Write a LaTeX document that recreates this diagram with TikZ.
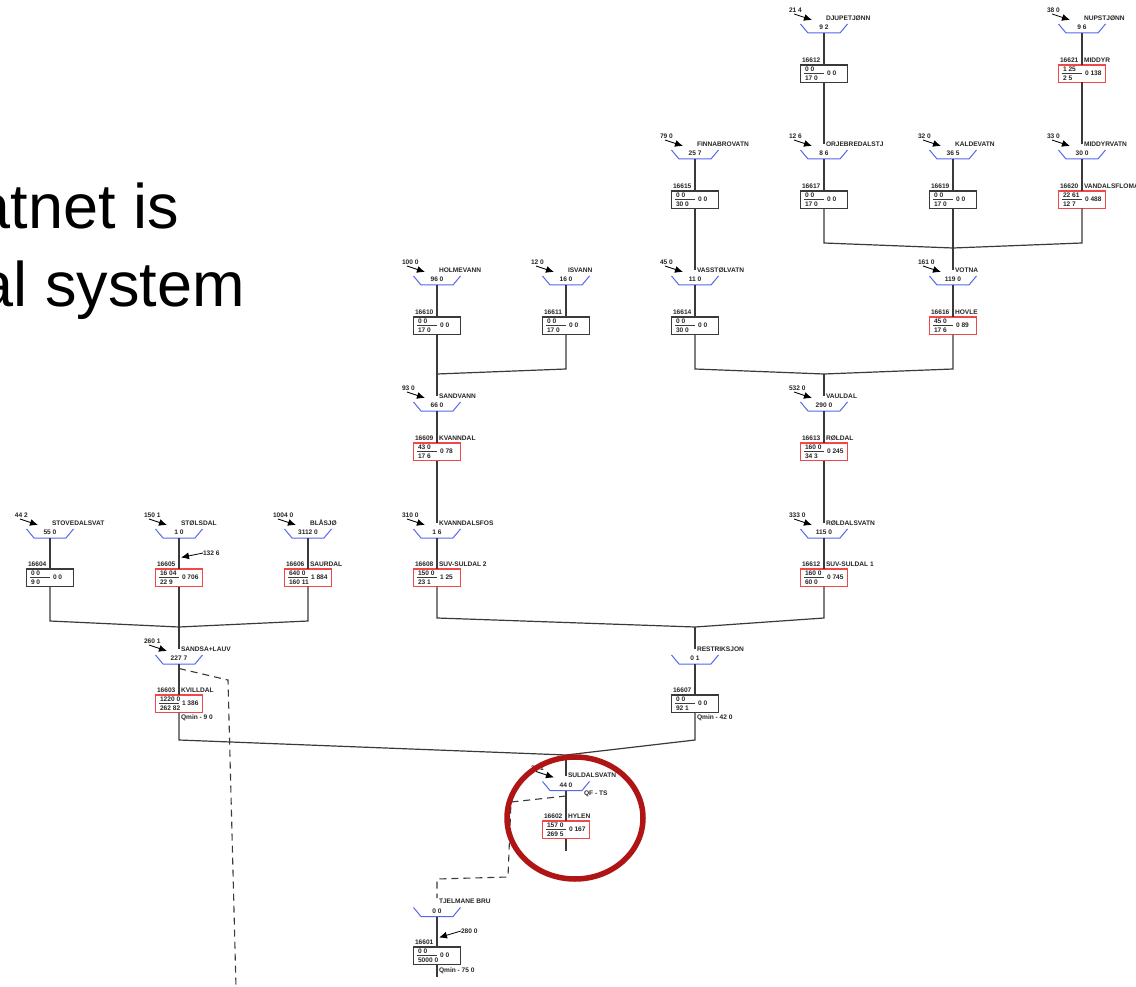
\documentclass[tikz,border=0pt]{standalone}
\usepackage{fontspec}
\setmainfont{Liberation Sans}
\usetikzlibrary{arrows.meta}
\definecolor{resblue}{HTML}{5566F0}
\definecolor{boxred}{HTML}{F04848}
\definecolor{ringred}{HTML}{B01515}
\definecolor{stem}{HTML}{3A3A3A}
\tikzset{
  txt/.style={inner sep=0pt,outer sep=0pt,font=\fontsize{6.6}{7}\selectfont\bfseries,text=black!85},
  wline/.style={draw=stem,line width=1.2pt},
  dline/.style={draw=stem,line width=1.1pt,dash pattern=on 7pt off 5pt},
  res/.style={draw=resblue,line width=1pt},
  plain/.style={draw=stem,line width=1.2pt,fill=white,minimum width=47pt,minimum height=17.5pt,inner sep=0pt,outer sep=0pt},
  hot/.style={draw=boxred,line width=1.2pt,fill=white,minimum width=47pt,minimum height=17.5pt,inner sep=0pt,outer sep=0pt},
  hotter/.style={draw=boxred,line width=1.8pt,fill=white,minimum width=47pt,minimum height=17.5pt,inner sep=0pt,outer sep=0pt},
  flow/.style={draw=black,line width=.8pt,-{Latex[length=8pt,width=7pt]}},
  big/.style={inner sep=0pt,outer sep=0pt,font=\fontsize{63}{70}\selectfont,text=black}
}
% reservoir: key, cx, bottom y, name, volume
\newcommand{\Res}[5]{%
  \coordinate (r#1) at (#2,#3);
  \coordinate (t#1) at ({#2},{#3-15});
  \draw[res] ({#2-23.5},{#3-9}) -- ({#2-16},{#3}) -- ({#2+16},{#3}) -- ({#2+23.5},{#3-9});
  \node[txt,anchor=west] (n#1) at ({#2+2},{#3-15}) {#4};
  \node[txt] (v#1) at ({#2},{#3-5.5}) {#5};
}
% inflow: key, cx, bottom y, number
\newcommand{\Inflow}[4]{%
  \node[txt,anchor=west] (i#1) at ({#2-35},{#3-22.5}) {#4};
  \coordinate (ia#1) at ({#2-30},{#3-19});
  \coordinate (ib#1) at ({#2-12},{#3-13});
  \draw[flow] (ia#1) -- (ib#1);
}
% box: key, cx, top y, id, second name, top, bottom, value, style
\newcommand{\Bx}[9]{%
  \node[#9] (b#1) at ({#2},{#3+8.75}) {};
  \node[txt,anchor=west] (id#1) at ({#2-22},{#3-4.5}) {#4};
  \node[txt,anchor=west] (m#1) at ({#2+2},{#3-4.5}) {#5};
  \node[txt,anchor=west] (f#1) at ({#2-19},{#3+4.2}) {#6};
  \node[txt,anchor=west] (g#1) at ({#2-19},{#3+13.3}) {#7};
  \node[txt,anchor=west] (x#1) at ({#2+3},{#3+8.6}) {#8};
  \coordinate (la#1) at ({#2-20},{#3+8.75});
  \coordinate (lb#1) at ({#2},{#3+8.75});
  \draw[draw=stem,line width=.7pt] (la#1) -- (lb#1);
}
\begin{document}
\begin{tikzpicture}[x=1pt,y=-1pt]
\useasboundingbox (0,0) rectangle (1136,987);
\clip (0,0) rectangle (1136,987);
\fill[white] (0,0) rectangle (1136,987);

\node[big,anchor=base east] (slideA) at (179,229) {atnet is};
\node[big,anchor=base east] (slideB) at (245,306) {al system};

% top row
\Res{a}{824}{33}{DJUPETJØNN}{9 2}
\Inflow{a}{824}{33}{21 4}
\Bx{a}{824}{65}{16612}{}{0 0}{17 0}{0 0}{plain}
\Res{b}{1082}{33}{NUPSTJØNN}{9 6}
\Inflow{b}{1082}{33}{38 0}
\Bx{b}{1082}{65}{16621}{MIDDYR}{1 25}{2 5}{0 138}{hot}
% second row
\Res{c}{695}{159}{FINNABROVATN}{25 7}
\Inflow{c}{695}{159}{79 0}
\Bx{c}{695}{191}{16615}{}{0 0}{30 0}{0 0}{plain}
\Res{d}{824}{159}{ORJEBREDALSTJ}{8 6}
\Inflow{d}{824}{159}{12 6}
\Bx{d}{824}{191}{16617}{}{0 0}{17 0}{0 0}{plain}
\Res{e}{953}{159}{KALDEVATN}{36 5}
\Inflow{e}{953}{159}{32 0}
\Bx{e}{953}{191}{16619}{}{0 0}{17 0}{0 0}{plain}
\Res{f}{1082}{159}{MIDDYRVATN}{30 0}
\Inflow{f}{1082}{159}{33 0}
\Bx{f}{1082}{191}{16620}{VANDALSFLOMA}{22 61}{12 7}{0 488}{hot}
% third row
\Res{g}{437}{285}{HOLMEVANN}{96 0}
\Inflow{g}{437}{285}{100 0}
\Bx{g}{437}{317}{16610}{}{0 0}{17 0}{0 0}{plain}
\Res{h}{566}{285}{ISVANN}{16 0}
\Inflow{h}{566}{285}{12 0}
\Bx{h}{566}{317}{16611}{}{0 0}{17 0}{0 0}{plain}
\Res{k}{695}{285}{VASSTØLVATN}{11 0}
\Inflow{k}{695}{285}{45 0}
\Bx{k}{695}{317}{16614}{}{0 0}{30 0}{0 0}{plain}
\Res{l}{953}{285}{VOTNA}{119 0}
\Inflow{l}{953}{285}{161 0}
\Bx{l}{953}{317}{16616}{HOVLE}{45 0}{17 6}{0 89}{hot}
% fourth row
\Res{m}{437}{411}{SANDVANN}{66 0}
\Inflow{m}{437}{411}{93 0}
\Bx{m}{437}{443}{16609}{KVANNDAL}{43 0}{17 6}{0 78}{hot}
\Res{n}{824}{411}{VAULDAL}{290 0}
\Inflow{n}{824}{411}{532 0}
\Bx{n}{824}{443}{16613}{RØLDAL}{160 0}{34 3}{0 245}{hot}
% fifth row
\Res{o}{50}{538}{STOVEDALSVAT}{55 0}
\Inflow{o}{50}{538}{44 2}
\Bx{o}{50}{569}{16604}{}{0 0}{9 0}{0 0}{plain}
\Res{p}{179}{538}{STØLSDAL}{1 0}
\Inflow{p}{179}{538}{150 1}
\Bx{p}{179}{569}{16605}{}{16 04}{22 9}{0 706}{hot}
\Res{q}{308}{538}{BLÅSJØ}{3112 0}
\Inflow{q}{308}{538}{1004 0}
\Bx{q}{308}{569}{16606}{SAURDAL}{640 0}{160 11}{1 884}{hotter}
\Res{s}{437}{538}{KVANNDALSFOS}{1 6}
\Inflow{s}{437}{538}{310 0}
\Bx{s}{437}{569}{16608}{SUV-SULDAL 2}{150 0}{23 1}{1 25}{hot}
\Res{u}{824}{538}{RØLDALSVATN}{115 0}
\Inflow{u}{824}{538}{333 0}
\Bx{u}{824}{569}{16612}{SUV-SULDAL 1}{160 0}{60 0}{0 745}{hot}
% sixth row
\Res{v}{179}{664}{SANDSA+LAUV}{227 7}
\Inflow{v}{179}{664}{260 1}
\Bx{v}{179}{695}{16603}{KVILLDAL}{1220 0}{262 82}{1 386}{hot}
\node[txt,anchor=west] (qv) at (181,717.7) {Qmin - 9 0};
\Res{w}{695}{664}{RESTRIKSJON}{0 1}
\Bx{w}{695}{695}{16607}{}{0 0}{92 1}{0 0}{plain}
\node[txt,anchor=west] (qw) at (697,717.7) {Qmin - 42 0};
% Suldal
\Res{y}{566}{790.5}{SULDALSVATN}{44 0}
\Inflow{y}{566}{790.5}{39 1}
\node[txt,anchor=west] (qf) at (584,794) {QF - TS};
\Bx{y}{566}{821}{16602}{HYLEN}{157 0}{269 5}{0 167}{hot}
\coordinate (yend) at (566,851);
% Tjelmane
\Res{z}{437}{916.5}{TJELMANE BRU}{0 0}
\Bx{z}{437}{947}{16601}{}{0 0}{5000 0}{0 0}{plain}
\node[txt,anchor=west] (qz) at (439,970.5) {Qmin - 75 0};
\coordinate (zend) at (437,977);

% extra inflows onto stems
\node[txt,anchor=west] (xp) at (203,553) {132 6};
\coordinate (xpt) at (181,557.5);
\draw[flow] (xp.west) -- (xpt);
\node[txt,anchor=west] (xz) at (461,931) {280 0};
\coordinate (xzt) at (439,937.5);
\draw[flow] (xz.west) -- (xzt);

% stems reservoir to box
\foreach \k in {a,b,c,d,e,f,g,h,k,l,m,n,o,p,q,s,u,v,w,y,z} {\draw[wline] (r\k) -- (b\k.north);}
% box to next reservoir
\draw[wline] (ba.south) -- (td);
\draw[wline] (bb.south) -- (tf);
\draw[wline] (bc.south) -- (tk);
\draw[wline] (bm.south) -- (ts);
\draw[wline] (bn.south) -- (tu);
\draw[wline] (by.south) -- (yend);
\draw[wline] (bz.south) -- (zend);

% junctions
\coordinate (j1l) at (824,243); \coordinate (j1) at (953,248); \coordinate (j1r) at (1082,243);
\draw[wline] (bd.south) -- (j1l) -- (j1) -- (j1r) -- (bf.south);
\draw[wline] (be.south) -- (tl);
\coordinate (j2l) at (566,369); \coordinate (j2) at (437,374);
\draw[wline] (bh.south) -- (j2l) -- (j2);
\draw[wline] (bg.south) -- (tm);
\coordinate (j3l) at (695,369); \coordinate (j3) at (824,374); \coordinate (j3r) at (953,369);
\draw[wline] (bk.south) -- (j3l) -- (j3) -- (j3r) -- (bl.south);
\draw[wline] (j3) -- (tn);
\coordinate (j4l) at (437,618); \coordinate (j4) at (695,627); \coordinate (j4r) at (824,618);
\draw[wline] (bs.south) -- (j4l) -- (j4) -- (j4r) -- (bu.south);
\draw[wline] (j4) -- (tw);
\coordinate (j5l) at (50,621); \coordinate (j5) at (179,627); \coordinate (j5r) at (308,621);
\draw[wline] (bo.south) -- (j5l) -- (j5) -- (j5r) -- (bq.south);
\draw[wline] (bp.south) -- (tv);
\coordinate (j6l) at (179,740); \coordinate (j6) at (566,755); \coordinate (j6r) at (695,740);
\draw[wline] (bv.south) -- (j6l) -- (j6) -- (j6r) -- (bw.south);
\draw[wline] (j6) -- (ty);

% dashed bypasses
\coordinate (d1a) at (179,668.5); \coordinate (d1b) at (228,680); \coordinate (d1c) at (236,987);
\draw[dline] (d1a) -- (d1b) -- (d1c);
\coordinate (d2a) at (566,796); \coordinate (d2b) at (511,802); \coordinate (d2c) at (508,877);
\coordinate (d2d) at (437,879); \coordinate (d2e) at (437,898);
\draw[dline] (d2a) -- (d2b) -- (d2c) -- (d2d) -- (d2e);

% highlight ring
\coordinate (ringc) at (575,818);
\draw[ringred,line width=5.5pt] (ringc) ellipse [x radius=68,y radius=61];
\end{tikzpicture}
\end{document}
